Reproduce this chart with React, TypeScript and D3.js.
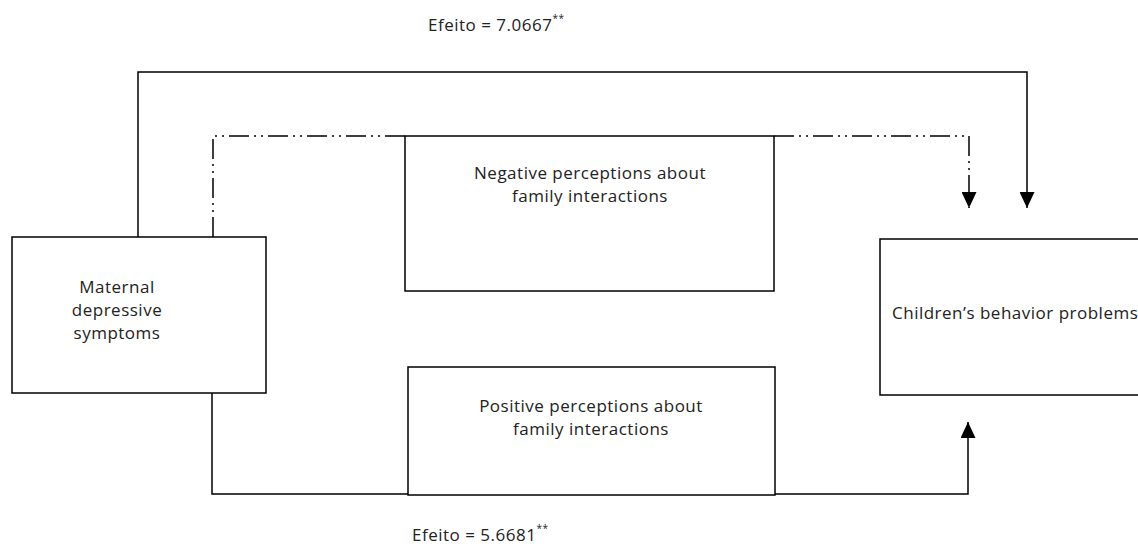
import * as d3 from 'd3';
import React from 'react';

// node labels (one entry per line of text)
const maternalLines = ['Maternal', 'depressive', 'symptoms'];
const negativeLines = ['Negative perceptions about', 'family interactions'];
const positiveLines = ['Positive perceptions about', 'family interactions'];
const childrenLines = ['Children’s behavior problems'];

// effects shown on the two solid paths
const effectLabels = ['Efeito = 7.0667', 'Efeito = 5.6681'];
const effectSig = ['**', '**'];

const W = 1138;
const H = 547;
const FONT = '"Open Sans", "DejaVu Sans", sans-serif';
const FS = 17;

type Pt = [number, number];

const boxes = [
	{ lines: maternalLines, x: 12, y: 237, w: 254, h: 156, tx: 117, ty: 293, anchor: 'middle' },
	{ lines: negativeLines, x: 405, y: 136, w: 369, h: 155, tx: 590, ty: 179, anchor: 'middle' },
	{ lines: positiveLines, x: 408, y: 367, w: 367, h: 128, tx: 591, ty: 412, anchor: 'middle' },
	{ lines: childrenLines, x: 880, y: 239, w: 300, h: 156, tx: 892, ty: 319, anchor: 'start' },
];

const links: { pts: Pt[]; dashed: boolean; arrow: boolean }[] = [
	{ pts: [[138, 237], [138, 72], [1027, 72], [1027, 208]], dashed: false, arrow: true },
	{ pts: [[213, 237], [213, 136], [405, 136]], dashed: true, arrow: false },
	{ pts: [[774, 136], [969, 136], [969, 208]], dashed: true, arrow: true },
	{ pts: [[212, 393], [212, 494], [408, 494]], dashed: false, arrow: false },
	{ pts: [[775, 494], [968, 494], [968, 422]], dashed: false, arrow: true },
];

const line = d3.line<Pt>().x((d) => d[0]).y((d) => d[1]);

export default function App() {
	return (
		<svg
			width={W}
			height={H}
			style={{ position: 'absolute', left: 0, top: 0, background: '#fff' }}
			fontFamily={FONT}
			letterSpacing={0.5}
		>
			<defs>
				<marker
					id="arrow"
					viewBox="0 0 16 15"
					refX={16}
					refY={7.5}
					markerWidth={16}
					markerHeight={15}
					markerUnits="userSpaceOnUse"
					orient="auto"
				>
					<path d="M0,0 L16,7.5 L0,15 Z" fill="#000" stroke="none" />
				</marker>
			</defs>

			{links.map((l, i) => (
				<path
					key={i}
					d={line(l.pts) ?? ''}
					fill="none"
					stroke="#000"
					strokeWidth={1.5}
					strokeDasharray={l.dashed ? '20 5 2 5 2 5' : undefined}
					markerEnd={l.arrow ? 'url(#arrow)' : undefined}
				/>
			))}

			{boxes.map((b, i) => (
				<g key={i}>
					<rect x={b.x} y={b.y} width={b.w} height={b.h} fill="#fff" stroke="#000" strokeWidth={1.5} />
					<text x={b.tx} y={b.ty} textAnchor={b.anchor} fontSize={FS} fill="#222">
						{b.lines.map((t, j) => (
							<tspan key={j} x={b.tx} dy={j === 0 ? 0 : 23}>
								{t}
							</tspan>
						))}
					</text>
				</g>
			))}

			{effectLabels.map((t, i) => (
				<text key={i} x={i === 0 ? 428 : 412} y={i === 0 ? 31 : 541} fontSize={FS} fill="#222">
					{t}
					<tspan fontSize={10} dy={-9}>
						{effectSig[i]}
					</tspan>
				</text>
			))}
		</svg>
	);
}
